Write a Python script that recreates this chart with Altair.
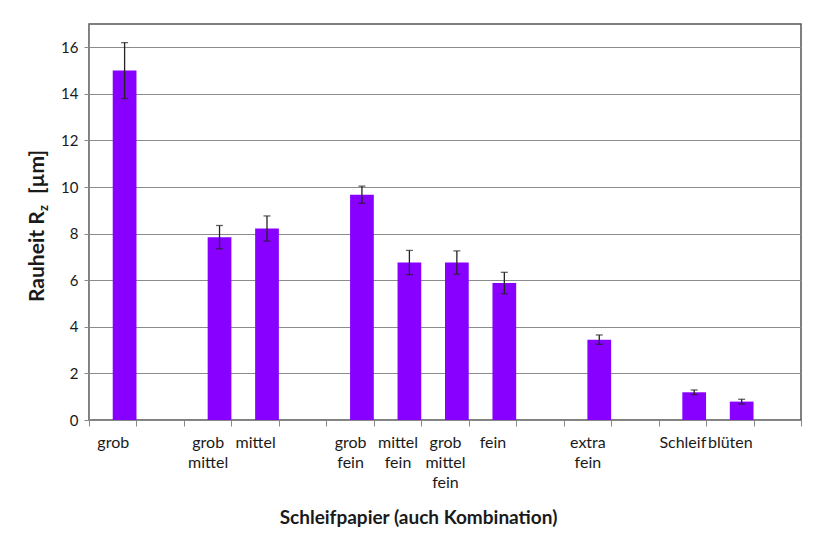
import altair as alt
import pandas as pd

# x slots (15 categories, "_n" = empty slot); "|" separates label lines
slots = ["grob", "_1", "grob|mittel", "mittel", "_2", "grob|fein", "mittel|fein",
         "grob|mittel|fein", "fein", "_3", "extra|fein", "_4", "Schleif", "blüten", "_5"]
bar_cats = ["grob", "grob|mittel", "mittel", "grob|fein", "mittel|fein",
            "grob|mittel|fein", "fein", "extra|fein", "Schleif", "blüten"]
rz_values = [15.0, 7.85, 8.22, 9.67, 6.76, 6.76, 5.88, 3.45, 1.19, 0.79]
rz_errors = [1.2, 0.5, 0.54, 0.37, 0.52, 0.5, 0.46, 0.2, 0.1, 0.1]
y_ticks = [0, 2, 4, 6, 8, 10, 12, 14, 16]

FONT = "Lato"
BAR = "#8800FF"

df = pd.DataFrame({
    "cat": bar_cats,
    "rz": rz_values,
    "err": rz_errors,
    "series": ["Rz"] * len(bar_cats),
})
df["lo"] = df["rz"] - df["err"]
df["hi"] = df["rz"] + df["err"]

xscale = alt.Scale(domain=slots, paddingInner=0, paddingOuter=0)
xoff = alt.XOffset("series:N", scale=alt.Scale(domain=["leer", "Rz"], paddingInner=0, paddingOuter=0))
yscale = alt.Scale(domain=[0, 17], nice=False)

xaxis = alt.Axis(
    title="Schleifpapier (auch Kombination)",
    labelExpr="indexof(datum.label, '_') == 0 ? '' : split(datum.label, '|')",
    labelAngle=0, labelFont=FONT, labelFontSize=16, labelColor="#1a1a1a",
    labelLineHeight=20, labelPadding=8, labelBaseline="top",
    tickBand="extent", tickSize=6, tickColor="#888", domainColor="#888",
    titleFont=FONT, titleFontSize=19, titleFontWeight="bold", titleColor="#1a1a1a",
    titleX=329, titleY=103, titleBaseline="alphabetic", titleAnchor="middle",
    labelFlush=False, labelOverlap=False,
)
yaxis = alt.Axis(
    title=None, values=y_ticks, grid=True, gridColor="#8c8c8c", gridWidth=1.2,
    labelFont=FONT, labelFontSize=15, labelColor="#1a1a1a", labelPadding=6,
    tickSize=5, tickColor="#888", domainColor="#888",
)

base = alt.Chart(df)

bars = base.mark_bar(color=BAR).encode(
    x=alt.X("cat:N", scale=xscale, axis=xaxis, sort=slots),
    xOffset=xoff,
    y=alt.Y("rz:Q", scale=yscale, axis=yaxis),
)

rules = base.mark_rule(color="#222", strokeWidth=1.3).encode(
    x=alt.X("cat:N", scale=xscale, sort=slots),
    xOffset=xoff,
    y=alt.Y("lo:Q", scale=yscale),
    y2="hi:Q",
)
cap_lo = base.mark_tick(color="#222", thickness=1.3, size=7).encode(
    x=alt.X("cat:N", scale=xscale, sort=slots),
    xOffset=xoff,
    y=alt.Y("lo:Q", scale=yscale),
)
cap_hi = base.mark_tick(color="#222", thickness=1.3, size=7).encode(
    x=alt.X("cat:N", scale=xscale, sort=slots),
    xOffset=xoff,
    y=alt.Y("hi:Q", scale=yscale),
)

# y-axis title with subscript z, built from three text pieces
t_main = alt.Chart(pd.DataFrame({"t": ["Rauheit R"]})).mark_text(
    font=FONT, fontSize=21, fontWeight="bold", angle=270, align="left",
    baseline="alphabetic", color="#1a1a1a",
).encode(x=alt.value(-45), y=alt.value(278), text="t:N")
t_sub = alt.Chart(pd.DataFrame({"t": ["z"]})).mark_text(
    font=FONT, fontSize=13, fontWeight="bold", angle=270, align="left",
    baseline="alphabetic", color="#1a1a1a",
).encode(x=alt.value(-41), y=alt.value(187), text="t:N")
t_unit = alt.Chart(pd.DataFrame({"t": ["[µm]"]})).mark_text(
    font=FONT, fontSize=21, fontWeight="bold", angle=270, align="left",
    baseline="alphabetic", color="#1a1a1a",
).encode(x=alt.value(-45), y=alt.value(170), text="t:N")

chart = alt.layer(bars, rules, cap_lo, cap_hi, t_main, t_sub, t_unit).properties(
    width=712, height=396,
    autosize=alt.AutoSizeParams(type="none"),
    padding={"left": 81, "top": 16, "right": 5, "bottom": 118},
    background="white",
).configure_view(stroke="#555", strokeWidth=1.5)

chart.save("out.html", embed_options={"renderer": "svg", "actions": False})
